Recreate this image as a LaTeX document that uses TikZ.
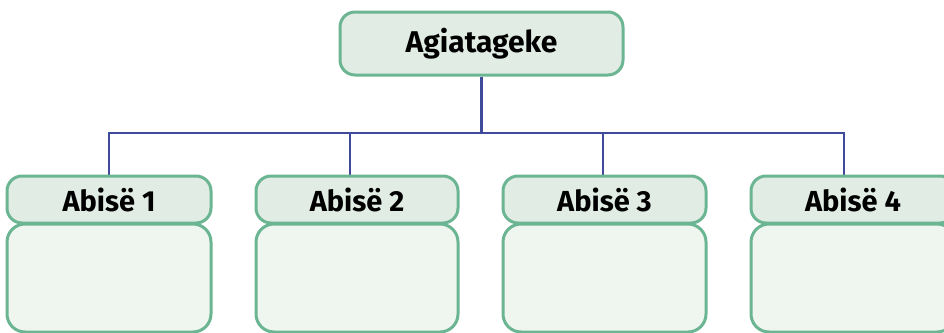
\documentclass[tikz,border=0pt]{standalone}
\usepackage{fontspec}
\setmainfont{Fira Sans}
\definecolor{bord}{HTML}{6BB592}
\definecolor{headfill}{HTML}{E1EDE4}
\definecolor{bodyfill}{HTML}{EFF5EF}
\definecolor{link}{HTML}{3F4A9A}
\begin{document}
\begin{tikzpicture}[x=1pt,y=-1pt,
  topbox/.style={draw=bord,fill=headfill,line width=3pt,rounded corners=15pt,minimum width=283pt,minimum height=63pt,inner sep=0pt,font=\fontsize{30}{32}\selectfont\bfseries},
  headbox/.style={draw=bord,fill=headfill,line width=3pt,rounded corners=15pt,minimum height=47pt,inner sep=0pt,font=\fontsize{29}{31}\selectfont\bfseries},
  bodybox/.style={draw=bord,fill=bodyfill,line width=3pt,rounded corners=18pt,minimum height=108pt,inner sep=0pt},
  conn/.style={draw=link,line width=2.8pt}]
\useasboundingbox (0,0) rectangle (944,332);
\node[topbox] (top) at (481.5,43.5) {Agiatageke};
\coordinate (c1) at (109,133);
\coordinate (c2) at (350,133);
\coordinate (c3) at (603,133);
\coordinate (c4) at (844,133);
\node[bodybox,minimum width=204pt] (b1) at (109,278) {};
\node[bodybox,minimum width=202pt] (b2) at (357,278) {};
\node[bodybox,minimum width=203pt] (b3) at (604.5,278) {};
\node[bodybox,minimum width=204pt] (b4) at (853,278) {};
\draw[conn] (top.south) |- (c1) -- (c1 |- 0,176);
\draw[conn] (top.south) |- (c4) -- (c4 |- 0,176);
\draw[conn] (c2) -- (c2 |- 0,176);
\draw[conn] (c3) -- (c3 |- 0,176);
\node[headbox,minimum width=204pt] (h1) at (109,199.5) {Abisë 1};
\node[headbox,minimum width=202pt] (h2) at (357,199.5) {Abisë 2};
\node[headbox,minimum width=203pt] (h3) at (604.5,199.5) {Abisë 3};
\node[headbox,minimum width=204pt] (h4) at (853,199.5) {Abisë 4};
\end{tikzpicture}
\end{document}
